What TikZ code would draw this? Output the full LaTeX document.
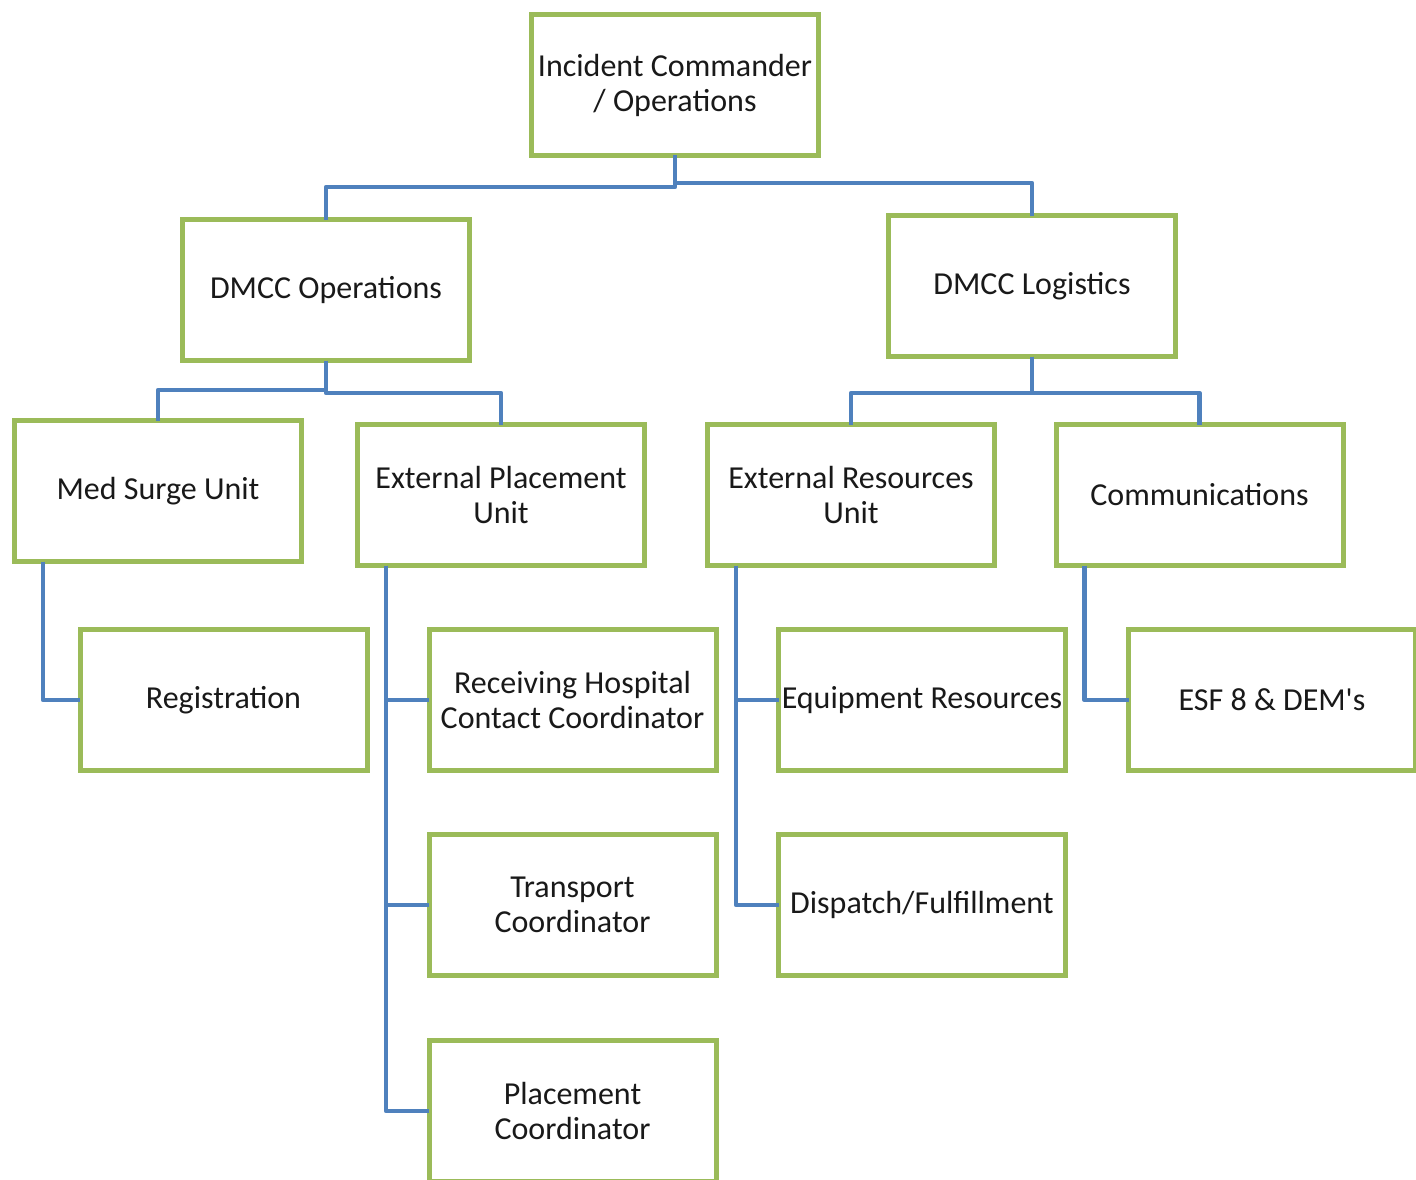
\documentclass[tikz,border=0pt]{standalone}
\usepackage{fontspec}
\setmainfont{Carlito}[Ligatures=TeXOff]
\usetikzlibrary{calc}
\definecolor{boxgreen}{RGB}{155,187,89}
\definecolor{linkblue}{RGB}{79,129,189}
\begin{document}
\begin{tikzpicture}[x=1pt,y=-1pt,
  unit/.style={draw=boxgreen, line width=5pt, fill=white, rectangle,
    minimum width=287pt, minimum height=141pt, inner sep=0pt, outer sep=0pt,
    align=center, font=\fontsize{32}{35}\selectfont, text=black!90},
  link/.style={draw=linkblue, line width=4.5pt, line join=round}]
\clip (0,0) rectangle (1416,1180);
\fill[white] (0,0) rectangle (1416,1180);

\path (675,85) coordinate (pIC) (326,290) coordinate (pDO) (1032,286) coordinate (pDL)
  (158,491) coordinate (pMed) (501,495) coordinate (pExtP) (851,495) coordinate (pExtR)
  (1199.5,495) coordinate (pComm) (223.5,700) coordinate (pReg) (572.5,700) coordinate (pRecv)
  (572.5,905) coordinate (pTrans) (572.5,1111) coordinate (pPlace) (922,700) coordinate (pEquip)
  (922,905) coordinate (pDisp) (1272,700) coordinate (pESF);

\node[unit] (IC) at (pIC) {Incident Commander\\/ Operations};
\node[unit] (DO) at (pDO) {DMCC Operations};
\node[unit] (DL) at (pDL) {DMCC Logistics};
\node[unit] (Med) at (pMed) {Med Surge Unit};
\node[unit] (ExtP) at (pExtP) {External Placement\\Unit};
\node[unit] (ExtR) at (pExtR) {External Resources\\Unit};
\node[unit] (Comm) at (pComm) {Communications};
\node[unit] (Reg) at (pReg) {Registration};
\node[unit] (Recv) at (pRecv) {Receiving Hospital\\Contact Coordinator};
\node[unit] (Trans) at (pTrans) {Transport\\Coordinator};
\node[unit] (Place) at (pPlace) {Placement\\Coordinator};
\node[unit] (Equip) at (pEquip) {Equipment Resources};
\node[unit] (Disp) at (pDisp) {Dispatch/Fulfillment};
\node[unit] (ESF) at (pESF) {ESF 8 \& DEM's};

\draw[link] (IC.south) -- ++(0,31.5) -| (DO.north);
\draw[link] (IC.south) -- ++(0,27.5) -| (DL.north);
\draw[link] (DO.south) -- ++(0,29.5) -| (Med.north);
\draw[link] (DO.south) -- ++(0,32.5) -| (ExtP.north);
\draw[link] (DL.south) -- ++(0,36.5) -| (ExtR.north);
\draw[link] (DL.south) -- ++(0,36.5) -| (Comm.north);

\coordinate (tMed) at ($(Med.south west)+(28.5,0)$);
\coordinate (tExtP) at ($(ExtP.south west)+(28.5,0)$);
\coordinate (tExtR) at ($(ExtR.south west)+(28.5,0)$);
\coordinate (tComm) at ($(Comm.south west)+(28.5,0)$);
\draw[link] (tMed) |- (Reg.west);
\draw[link] (tExtP) |- (Place.west);
\draw[link] (tExtP) |- (Recv.west);
\draw[link] (tExtP) |- (Trans.west);
\draw[link] (tExtR) |- (Disp.west);
\draw[link] (tExtR) |- (Equip.west);
\draw[link] (tComm) |- (ESF.west);
\end{tikzpicture}
\end{document}
